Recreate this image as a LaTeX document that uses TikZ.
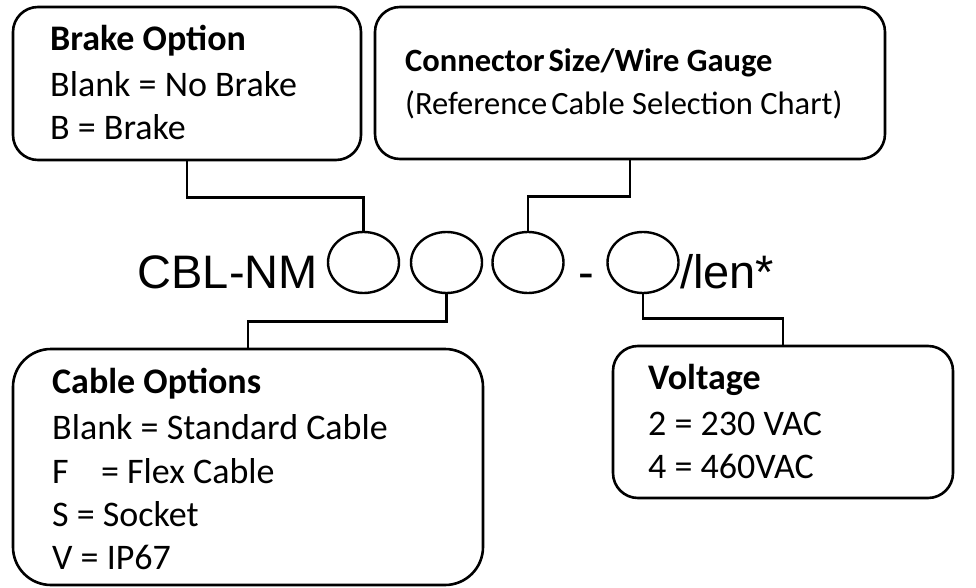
\documentclass[tikz,border=0pt]{standalone}
\usepackage{fontspec}
\setmainfont{Carlito}
\newfontfamily\arialfont{Liberation Sans}
\usetikzlibrary{shapes.geometric}
\tikzset{
  box/.style={draw, line width=2.6pt, inner sep=0pt, rounded corners=#1},
  box/.default=25pt,
  slot/.style={draw, ellipse, line width=2.4pt, inner sep=0pt, minimum width=71pt, minimum height=61pt},
  link/.style={draw, line width=2.6pt},
  txt/.style={anchor=base west, inner sep=0pt, font=\fontsize{36}{44}\selectfont},
  ttl/.style={txt, font=\fontsize{36}{44}\selectfont\bfseries},
  stxt/.style={anchor=base west, inner sep=0pt, font=\fontsize{32.5}{40}\selectfont},
  sttl/.style={stxt, font=\fontsize{32.5}{40}\selectfont\bfseries},
  code/.style={inner sep=0pt, font=\arialfont\fontsize{47}{56}\selectfont}
}
\begin{document}
\begin{tikzpicture}[x=1pt,y=-1pt]
\useasboundingbox (0,0) rectangle (976,588);
% boxes
\node[box, minimum width=348pt, minimum height=153pt] (brake) at (187,83.5) {};
\node[box, minimum width=510pt, minimum height=152pt] (conn) at (630,83) {};
\node[box=38pt, minimum width=470pt, minimum height=236pt] (cable) at (248,467) {};
\node[box, minimum width=340pt, minimum height=152pt] (volt) at (783,422) {};
% slots
\node[slot] (e1) at (363.5,262.5) {};
\node[slot] (e2) at (446.5,262.5) {};
\node[slot] (e3) at (528,262.5) {};
\node[slot] (e4) at (643,262.5) {};
% code text
\node[code, anchor=base east] (cbl) at (318,288) {CBL-NM};
\node[code, anchor=base] (dash) at (586.5,288) {-};
\node[code, anchor=base west] (len) at (680,288) {/len*};
% connectors
\draw[link] (brake.south) -- ++(0,36) -| (e1.north);
\draw[link] (conn.south) -- ++(0,36) -| (e3.north);
\draw[link] (e2.south) -- ++(0,27) -| (cable.north);
\draw[link] (e4.south) -- ++(0,24) -| (volt.north);
% box texts
\node[ttl] (bt) at (50,51) {Brake Option};
\node[txt] (b1) at (50,97) {Blank = No Brake};
\node[txt] (b2) at (50,140) {B = Brake};
\node[sttl] (ct) at (405,72) {Connector\hspace{0.12em}Size/Wire Gauge};
\node[stxt] (c1) at (405,115) {(Reference\hspace{0.12em}Cable Selection Chart)};
\node[ttl] (kt) at (52,393) {Cable Options};
\node[txt] (k1) at (52,439) {Blank = Standard Cable};
\node[txt] (k2) at (52,483) {F\hspace{0.9em}= Flex Cable};
\node[txt] (k3) at (52,526) {S = Socket};
\node[txt] (k4) at (52,569) {V = IP67};
\node[ttl] (vt) at (648,389) {Voltage};
\node[txt] (v1) at (648,435) {2 = 230 VAC};
\node[txt] (v2) at (648,478) {4 = 460VAC};
\end{tikzpicture}
\end{document}
